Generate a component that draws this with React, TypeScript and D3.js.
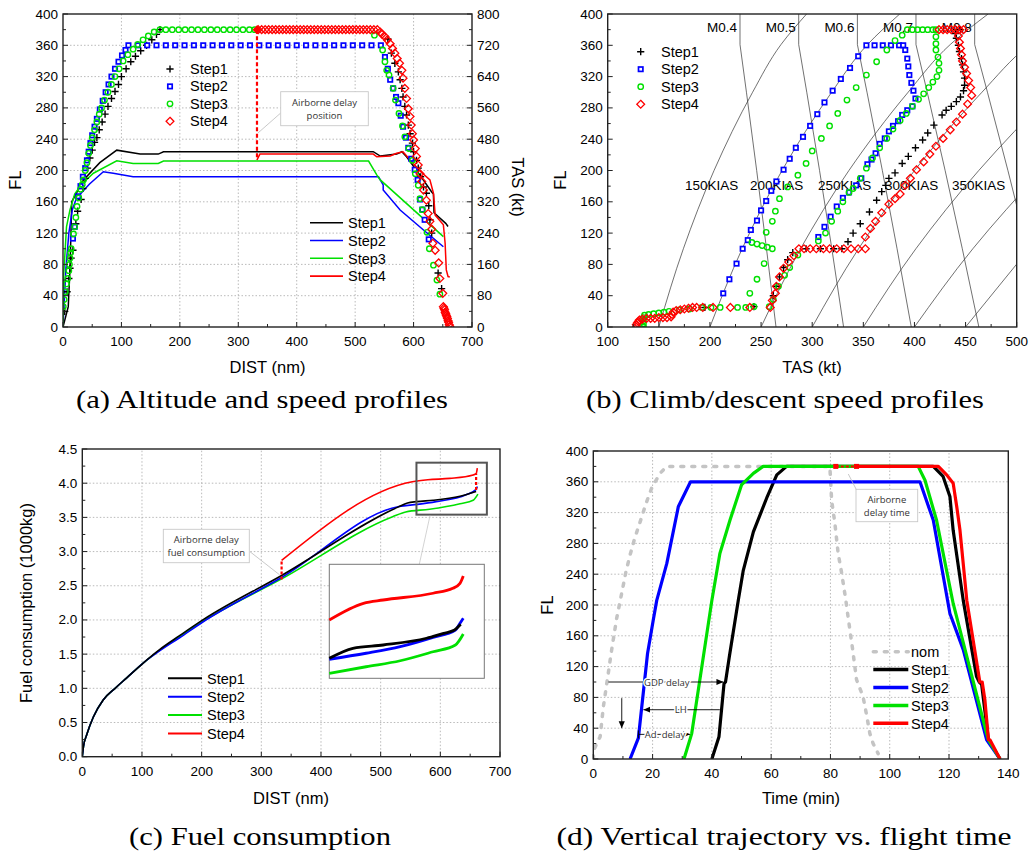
import React, { useEffect, useRef } from 'react';
import * as d3 from 'd3';

type P = [number, number];

const SANS = "'Liberation Sans', Arial, Helvetica, sans-serif";
const SERIF = "'Liberation Serif', 'Times New Roman', serif";
const NOTE = "'Open Sans', 'Noto Sans', sans-serif";

const COL = { s1: '#000000', s2: '#0000ff', s3: '#00e000', s4: '#ff0000', nom: '#c4c4c4' };
const stepNames = ['Step1', 'Step2', 'Step3', 'Step4'];

// ---------- (a) altitude markers [DIST nm, FL] ----------
const aStep1Pts: P[] = [[3,20],[7,45],[10,62],[12,75],[14,88],[17,98],[22,132],[25,148],[31,163],[34,177],[38,190],[42,203],[46,216],[50,226],[54,236],[58,242],[62,252],[67,262],[72,272],[77,282],[83,292],[89,301],[95,310],[100,320],[108,330],[116,339],[124,346],[133,353],[143,360],[152,367],[160,374],[166,380],
  [556,368],[562,350],[568,337],[574,326],[577,316],[580,305],[582,294],[585,282],[588,271],[591,258],[594,247],[598,235],[600,224],[605,213],[608,203],[612,192],[617,179],[622,171],[626,155],[628,137],[631,120],[642,69],[648,49]];
const aStep2Pts: P[] = [[17,113],[20,128],[26,167],[30,180],[34,192],[38,203],[41,213],[44,224],[47,235],[50,245],[54,256],[58,266],[63,278],[68,289],[73,300],[78,310],[83,320],[89,330],[95,339],[101,347],[107,354],[112,360],
  [551,345],[556,330],[560,316],[565,305],[570,294],[574,286],[578,270],[582,256],[587,242],[591,229],[596,215],[602,201],[607,188],[611,163],[615,150],[619,137],[626,112]];
const aStep2Cruise = [128,144,160,176,192,208,224,240,256,272,288,304,320,336,352,368,384,400,416,432,448,464,480,496,512,528,544];
const aStep3Pts: P[] = [[0.5,26],[2,35],[4,45],[6,55],[8,62],[10,72],[11,80],[12,88],[13,95],[14,100],[18,119],[20,128],[22,140],[24,154],[27,165],[30,176],[33,182],[35,188],[38,200],[41,210],[44,222],[47,232],[50,242],[54,252],[58,262],[62,272],[66,280],[71,290],[77,300],[83,310],[89,320],[96,330],[103,340],[111,348],[120,355],[128,361],[137,367],[146,372],[156,377],[166,380],
  [533,373],[547,354],[551,339],[554,328],[558,322],[565,305],[569,290],[575,273],[581,257],[585,243],[592,228],[598,213],[603,196],[608,181],[611,164],[615,150],[623,121],[627,100],[634,79],[640,60],[645,42]];
const aStep3Cruise = [176,187,198,209,220,231,242,253,264,275,286,297,308,319,328];
const aStep4Pts: P[] = [[543,377],[546,374],[551,371],[555,367],[560,362],[564,356],[568,350],[572,343],[576,337],[580,328],[582,318],[585,305],[588,292],[591,279],[594,269],[596,258],[598,247],[600,239],[603,228],[605,218],[608,207],[611,196],[614,186],[617,175],[622,162],[625,145],[628,135],[631,125],[633,107],[637,98],[643,82],[645,62],[650,43],
  [651,26],[652,24],[653,22],[654,19],[655,17],[656,15],[657,13],[658,11],[659,8],[660,6],[661,3],[662,1]];
const aStep4Cruise = [334,340,346,352,358,364,370,376,382,388,394,400,406,412,418,424,430,436,442,448,454,460,466,472,478,484,490,496,502,508,514,520,526,532,538];

// ---------- (a) TAS lines [DIST nm, TAS kt] ----------
const aTas1: P[] = [[0,0],[9,52],[12,150],[15,320],[35,376],[63,420],[92,452],[132,442],[163,442],[172,448],[531,448],[543,437],[571,442],[580,448],[588,435],[610,390],[631,345],[634,340],[635,292],[655,265],[659,257]];
const aTas2: P[] = [[0,0],[2,60],[5,150],[10,240],[16,300],[23,329],[45,365],[69,397],[86,393],[120,384],[540,384],[548,363],[548,350],[577,299],[617,248],[651,205]];
const aTas3: P[] = [[0,0],[0.5,60],[1,128],[6,256],[12,300],[20,340],[32,365],[52,393],[92,425],[120,418],[163,418],[172,424],[523,424],[537,389],[543,376],[651,231]];
const aTas4: P[] = [[332,427],[337,442],[531,442],[537,435],[560,437],[571,444],[582,448],[610,400],[628,376],[634,342],[637,286],[651,261],[654,214],[656,146],[659,129],[662,128]];
const aDelayDist = 332;

// ---------- (b) markers [TAS kt, FL] ----------
const bStep1Pts: P[] = [[195,25],[243,26],[262,40],[265,52],[268,64],[272,76],[276,86],[281,95],[294,100],[308,100],[321,100],[329,100],[335,109],[340,120],[347,132],[356,147],[363,162],[368,173],[372,181],[375,190],[381,197],[388,209],[394,218],[401,229],[408,239],[413,248],[419,258],[427,271],[431,277],[436,282],[441,288],[445,294],[448,302],[449,309],[449,318],[448,326],[447,335],[446,343],[444,352],[443,360],[441,369],[440,375],[441,380],[445,380]];
const bStep2Pts: P[] = [[213,43],[219,61],[226,81],[232,100],[237,111],[240,124],[246,136],[250,149],[255,161],[260,174],[265,186],[272,201],[278,215],[284,229],[291,243],[298,257],[305,272],[312,287],[320,302],[328,317],[337,331],[345,346],[353,360],[361,360],[369,360],[377,360],[385,360],[389,360],[391,354],[393,343],[394,333],[395,322],[397,312],[399,302],[401,292],[398,282],[393,277],[388,271],[384,263],[379,257],[375,250],[371,241],[366,234],[362,222],[358,214],[354,208],[348,190],[343,181],[336,172],[330,165],[324,154],[318,141],[312,128],[306,115]];
const bStep3Pts: P[] = [[135,0],[135,4],[135,8],[135,12],[136,15],[140,16],[145,17],[150,18],[155,19],[160,20],[170,22],[180,23],[192,25],[201,25],[210,25],[227,25],[235,25],[243,26],
  [239,43],[246,61],[253,81],[241,108],[246,106],[251,104],[256,102],[261,100],[255,121],[261,135],[264,148],[268,164],[276,179],[286,194],[294,209],[300,225],[309,241],[317,257],[325,273],[334,290],[343,306],[353,322],[363,339],[373,354],[381,366],[388,373],[393,380],[398,380],[403,380],[408,380],[413,380],[418,380],[421,380],
  [421,371],[421,362],[421,354],[423,345],[424,337],[424,328],[422,320],[418,313],[414,306],[409,298],[404,291],[398,282],[392,273],[386,264],[379,253],[373,241],[366,229],[359,216],[353,203],[347,190],[340,177],[336,172],[330,160],[325,148],[319,135],[313,120],[306,110],[286,92],[278,76],[273,66],[267,52],[262,35],[258,26]];
const bStep4Pts: P[] = [[424,380],[428,380],[432,380],[436,380],[440,380],[444,380],[448,380],[443,372],[444,364],[445,356],[446,348],[447,340],[449,332],[451,324],[453,315],[455,306],[456,296],[452,285],[447,272],[441,262],[435,252],[428,241],[421,231],[415,221],[409,211],[402,201],[396,190],[391,181],[386,170],[381,164],[375,157],[368,146],[362,135],[357,126],[352,115],[352,100],[345,100],[338,100],[331,100],[324,100],[317,100],[311,100],[304,100],[298,100],[292,100],[287,100],[282,91],[277,83],[272,75],[268,64],[265,52],[264,43],[261,34],[259,25],[239,25],[220,25],[203,25],[193,25],[187,25],[183,25],[179,24],[175,23],[171,22],[167,21],[164,19],[163,16],[162,13],[158,12],[154,12],[150,12],[146,11],[142,11],[138,11],[134,10],[131,9],[130,7],[129,5],[128,3],[128,0]];

// ---------- (b) guide lines: TAS at FL 0,100,200,300,361,400 ----------
const guideFL = [0, 100, 200, 300, 361, 400];
const machNames = ['M0.4', 'M0.5', 'M0.6', 'M0.7', 'M0.8'];
const machTas = [
  [264.6, 255.3, 245.7, 235.7, 229.4, 229.4],
  [330.7, 319.2, 307.2, 294.7, 286.8, 286.8],
  [396.9, 383.0, 368.6, 353.6, 344.2, 344.2],
  [463.0, 446.8, 430.0, 412.5, 401.5, 401.5],
  [529.2, 510.6, 491.4, 471.4, 458.9, 458.9],
];
const kiasNames = ['150KIAS', '200KIAS', '250KIAS', '300KIAS', '350KIAS'];
const kiasTas = [
  [150, 174.0, 204.0, 241.7, 269.5, 294.5],
  [200, 231.5, 270.5, 319.0, 354.1, 385.6],
  [250, 288.6, 335.9, 393.8, 435.0, 472.0],
  [300, 345.3, 400.1, 466.0, 512.2, 553.7],
  [350, 401.4, 462.9, 535.6, 585.7],
  [400, 457.1, 524.3],
  [450, 512.2],
];
const kiasLabelTas = [175.6, 239.2, 305.7, 371.2, 436.7];

// ---------- (c) fuel [DIST nm, fuel 1000kg] ----------
const cFuel1: P[] = [[0,0],[2,0.15],[7.4,0.32],[18.5,0.58],[35,0.83],[55,1.0],[74,1.15],[102,1.37],[130,1.57],[163,1.77],[202,2.0],[334,2.65],[529,3.65],[545,3.71],[560,3.73],[588,3.75],[633,3.81],[660,3.88]];
const cFuel2: P[] = [[0,0],[2,0.15],[7.4,0.32],[18.5,0.58],[35,0.83],[55,1.0],[74,1.15],[102,1.37],[130,1.55],[163,1.74],[202,1.97],[334,2.62],[531,3.66],[562,3.69],[593,3.73],[643,3.83],[660,3.91],[662,3.95]];
const cFuel3: P[] = [[0,0],[2,0.15],[7.4,0.32],[18.5,0.58],[35,0.83],[55,1.0],[74,1.15],[102,1.37],[130,1.56],[163,1.76],[202,1.98],[334,2.6],[520,3.51],[542,3.58],[582,3.62],[633,3.70],[655,3.75],[663,3.84]];
const cFuel4: P[] = [[334,2.87],[553,4.02],[579,4.05],[616,4.07],[655,4.12],[660,4.14],[662,4.22]];
const cDelay1: P[] = [[334,2.59],[334,2.87]];
const cDelay2: P[] = [[660,3.90],[660,4.14]];
// inset (magnified) curves, in the zoom box units
const cZoomDist = [560, 678];
const cZoomFuel = [3.54, 4.30];
const cInset1: P[] = [[560,3.673],[578,3.74],[601,3.762],[634,3.807],[647,3.84],[655,3.86],[660,3.90]];
const cInset2: P[] = [[560,3.667],[588,3.707],[614,3.751],[639,3.813],[656,3.862],[659.5,3.907],[662,3.94]];
const cInset3: P[] = [[560,3.573],[588,3.617],[614,3.657],[639,3.717],[656,3.762],[662,3.835]];
const cInset4: P[] = [[560,3.929],[586,4.04],[601,4.062],[639,4.107],[654,4.14],[659.5,4.173],[662,4.222]];

// ---------- (d) FL vs time [min, FL] ----------
const dNom: P[] = [[0,0],[0.2,12],[2.3,29],[3.4,68],[4.7,102],[6.2,142],[7.9,183],[9,204],[11,243],[12.4,265],[14,287],[15.8,308],[17.8,332],[19.7,352],[22.5,371],[24.8,380],[79.8,380],[80.4,336],[81.5,306],[82.6,267],[83.8,241],[85.2,206],[86,183],[87.5,142],[88.8,103],[91,81],[92.2,57],[93.3,33],[94.4,20],[96.1,7]];
const dStep1: P[] = [[40,0],[42.4,29],[44.1,98],[44.6,100],[45.9,133],[48.9,206],[50.6,245],[54,295],[58.5,339],[61.9,369],[65.2,380],[114.7,380],[118,367],[120.3,341],[121.4,297],[124.8,206],[129.3,107],[130.2,100],[131,97],[133.3,25],[137.2,0]];
const dStep2: P[] = [[12.4,0],[15.2,27],[18.3,137],[20.2,180],[21.4,206],[24.8,254],[28.7,328],[32.8,360],[110.2,360],[114.7,310],[120.3,189],[124.8,142],[132.7,25],[137.2,0]];
const dStep3: P[] = [[30.6,0],[33.2,33],[40,206],[42.7,267],[46.1,310],[50,356],[54,371],[57.3,380],[109.6,380],[111.9,362],[115.8,310],[121.4,202],[132.7,33],[133.3,25],[137.2,0]];
const dStep4: P[] = [[88.8,380],[116.4,380],[119.2,369],[121.4,358],[122.6,328],[123.7,297],[126,206],[130.4,100],[131.2,100],[132.1,77],[133.3,25],[133.8,25],[137.2,0]];
const dDelay: P[] = [[81.8,380],[88.8,380]];

export default function App() {
  const ref = useRef<SVGSVGElement>(null);

  useEffect(() => {
    const svg = d3.select(ref.current as SVGSVGElement);
    svg.selectAll('*').remove();
    svg.append('rect').attr('width', 1032).attr('height', 855).attr('fill', '#fff');
    const defs = svg.append('defs');
    defs.append('marker').attr('id', 'arr').attr('viewBox', '0 -4 8 8').attr('refX', 8).attr('refY', 0)
      .attr('markerWidth', 7).attr('markerHeight', 7).attr('markerUnits', 'userSpaceOnUse').attr('orient', 'auto')
      .append('path').attr('d', 'M0,-3.5L8,0L0,3.5Z').attr('fill', '#000');

    const text = (g: any, x: number, y: number, s: string, size: number, o: any = {}) =>
      g.append('text').attr('x', x).attr('y', y).attr('font-family', o.font || SANS).attr('font-size', size)
        .attr('text-anchor', o.anchor || 'start').attr('fill', o.fill || '#000').text(s);

    const clip = (id: string, x: any, y: any) => {
      const [x0, x1] = x.range(); const [y0, y1] = y.range();
      defs.append('clipPath').attr('id', id).append('rect').attr('x', x0).attr('y', y1).attr('width', x1 - x0).attr('height', y0 - y1);
      return svg.append('g').attr('clip-path', `url(#${id})`);
    };

    const grid = (x: any, y: any, xt: number[], yt: number[]) => {
      const g = svg.append('g').attr('stroke', '#a8a8a8').attr('stroke-width', 0.8).attr('stroke-dasharray', '1.5,2');
      const [x0, x1] = x.range(); const [y0, y1] = y.range();
      xt.slice(1, -1).forEach(v => g.append('line').attr('x1', x(v)).attr('x2', x(v)).attr('y1', y0).attr('y2', y1));
      yt.slice(1, -1).forEach(v => g.append('line').attr('x1', x0).attr('x2', x1).attr('y1', y(v)).attr('y2', y(v)));
    };

    const mids = (t: number[]) => t.slice(1).map((v, i) => (v + t[i]) / 2);

    const frame = (x: any, y: any, xt: number[], yt: number[], yf: (v: number) => string) => {
      const g = svg.append('g');
      const [x0, x1] = x.range(); const [y0, y1] = y.range();
      g.append('rect').attr('x', x0).attr('y', y1).attr('width', x1 - x0).attr('height', y0 - y1)
        .attr('fill', 'none').attr('stroke', '#222').attr('stroke-width', 1.4);
      const tk = g.append('g').attr('stroke', '#222').attr('stroke-width', 1);
      xt.forEach(v => tk.append('line').attr('x1', x(v)).attr('x2', x(v)).attr('y1', y0).attr('y2', y0 - 5));
      mids(xt).forEach(v => tk.append('line').attr('x1', x(v)).attr('x2', x(v)).attr('y1', y0).attr('y2', y0 - 3));
      yt.forEach(v => tk.append('line').attr('x1', x0).attr('x2', x0 + 5).attr('y1', y(v)).attr('y2', y(v)));
      mids(yt).forEach(v => tk.append('line').attr('x1', x0).attr('x2', x0 + 3).attr('y1', y(v)).attr('y2', y(v)));
      xt.forEach(v => text(g, x(v), y0 + 19, String(v), 13.5, { anchor: 'middle' }));
      yt.forEach(v => text(g, x0 - 5, y(v) + 4.5, yf(v), 13.5, { anchor: 'end' }));
    };

    const line = (x: any, y: any, curve: any = d3.curveLinear) =>
      d3.line<P>().x(d => x(d[0])).y(d => y(d[1])).curve(curve);

    const marker = (g: any, px: number, py: number, kind: string, color: string) => {
      if (kind === 'plus') g.append('path').attr('d', `M${px - 3.6},${py}h7.2M${px},${py - 3.6}v7.2`).attr('stroke', color).attr('stroke-width', 1.4);
      if (kind === 'square') g.append('rect').attr('x', px - 2.2).attr('y', py - 2.2).attr('width', 4.4).attr('height', 4.4)
        .attr('fill', '#fff').attr('stroke', color).attr('stroke-width', 1.7);
      if (kind === 'circle') g.append('circle').attr('cx', px).attr('cy', py).attr('r', 2.7).attr('fill', 'none').attr('stroke', color).attr('stroke-width', 1.4);
      if (kind === 'diamond') g.append('path').attr('d', `M${px},${py - 3.9}L${px + 3.9},${py}L${px},${py + 3.9}L${px - 3.9},${py}Z`)
        .attr('fill', 'none').attr('stroke', color).attr('stroke-width', 1.3);
    };
    const markers = (g: any, pts: P[], x: any, y: any, kind: string, color: string) =>
      pts.forEach(([a, b]) => marker(g, x(a), y(b), kind, color));

    const noteBox = (x0: number, y0: number, x1: number, y1: number, lines: string[], lx0: number, ly0: number, lx1: number, ly1: number) => {
      svg.append('line').attr('x1', lx0).attr('y1', ly0).attr('x2', lx1).attr('y2', ly1).attr('stroke', '#bbb').attr('stroke-width', 0.8);
      svg.append('rect').attr('x', x0).attr('y', y0).attr('width', x1 - x0).attr('height', y1 - y0)
        .attr('fill', '#fff').attr('stroke', '#c8c8c8').attr('stroke-width', 0.9);
      const cy = (y0 + y1) / 2;
      lines.forEach((s, i) => text(svg, (x0 + x1) / 2, cy + (i - (lines.length - 1) / 2) * 13 + 3.5, s, 9.5, { anchor: 'middle', font: NOTE, fill: '#333' }));
    };

    const stepColors = [COL.s1, COL.s2, COL.s3, COL.s4];
    const stepKinds = ['plus', 'square', 'circle', 'diamond'];

    // ================= (a) =================
    {
      const x = d3.scaleLinear().domain([0, 700]).range([63, 472]);
      const y = d3.scaleLinear().domain([0, 400]).range([327, 14]);
      const y2 = d3.scaleLinear().domain([0, 800]).range([327, 14]);
      const xt = d3.range(0, 701, 100), yt = d3.range(0, 401, 40), y2t = d3.range(0, 801, 80);
      grid(x, y, xt, yt);
      const g = clip('clipA', x, y);
      const tasLines = [aTas1, aTas2, aTas3, aTas4];
      tasLines.forEach((d, i) => g.append('path').attr('d', line(x, y2)(d)).attr('fill', 'none')
        .attr('stroke', stepColors[i]).attr('stroke-width', 1.5));
      const m = g.append('g');
      markers(m, aStep1Pts, x, y, 'plus', COL.s1);
      markers(m, aStep2Pts, x, y, 'square', COL.s2);
      markers(m, aStep2Cruise.map(v => [v, 360] as P), x, y, 'square', COL.s2);
      markers(m, aStep3Pts, x, y, 'circle', COL.s3);
      markers(m, aStep3Cruise.map(v => [v, 380] as P), x, y, 'circle', COL.s3);
      markers(m, aStep4Cruise.map(v => [v, 380] as P), x, y, 'diamond', COL.s4);
      markers(m, aStep4Pts, x, y, 'diamond', COL.s4);
      // airborne delay position
      g.append('line').attr('x1', x(aDelayDist)).attr('x2', x(aDelayDist)).attr('y1', y(380)).attr('y2', y2(427))
        .attr('stroke', COL.s4).attr('stroke-width', 2.2).attr('stroke-dasharray', '4,2.5');
      g.append('path').attr('d', `M${x(aDelayDist)},${y(380) - 4.5}l4.5,4.5l-4.5,4.5l-4.5,-4.5Z`).attr('fill', COL.s4);
      frame(x, y, xt, yt, v => String(v));
      // right TAS axis
      const r = svg.append('g').attr('stroke', '#222').attr('stroke-width', 1);
      y2t.forEach(v => r.append('line').attr('x1', 472).attr('x2', 467).attr('y1', y2(v)).attr('y2', y2(v)));
      mids(y2t).forEach(v => r.append('line').attr('x1', 472).attr('x2', 469).attr('y1', y2(v)).attr('y2', y2(v)));
      y2t.forEach(v => text(svg, 477, y2(v) + 4.5, String(v), 13.5));
      text(svg, 267.5, 373, 'DIST (nm)', 16.5, { anchor: 'middle' });
      text(svg, 0, 0, 'FL', 16.5, { anchor: 'middle' }).attr('transform', 'translate(21,180) rotate(-90)');
      text(svg, 0, 0, 'TAS (kt)', 16.5, { anchor: 'middle' }).attr('transform', 'translate(512,187) rotate(90)');
      noteBox(280.7, 91.7, 368.3, 125.7, ['Airborne delay', 'position'], 280.7, 113, x(aDelayDist) + 1, 133);
      // legends
      stepNames.forEach((s, i) => {
        marker(svg, 170, 69 + i * 17.4, stepKinds[i], stepColors[i]);
        text(svg, 190, 74 + i * 17.4, s, 14.5);
        svg.append('line').attr('x1', 310).attr('x2', 343).attr('y1', 222.7 + i * 17.8).attr('y2', 222.7 + i * 17.8)
          .attr('stroke', stepColors[i]).attr('stroke-width', 1.6);
        text(svg, 348, 228 + i * 17.8, s, 14.5);
      });
    }

    // ================= (b) =================
    {
      const x = d3.scaleLinear().domain([100, 500]).range([607.7, 1016.7]);
      const y = d3.scaleLinear().domain([0, 400]).range([327, 14]);
      const xt = d3.range(100, 501, 50), yt = d3.range(0, 401, 40);
      const g = clip('clipB', x, y);
      const guide = (tas: number[]) => tas.map((t, i) => [t, guideFL[i]] as P);
      const gl = g.append('g').attr('fill', 'none').attr('stroke', '#333').attr('stroke-width', 0.7);
      machTas.forEach(t => gl.append('path').attr('d', line(x, y)(guide(t))));
      kiasTas.forEach(t => gl.append('path').attr('d', line(x, y, d3.curveMonotoneY)(guide(t))));
      machNames.forEach((s, i) => text(g, x(machTas[i][5]) - 3, 32, s, 13.5, { anchor: 'end' }));
      kiasNames.forEach((s, i) => text(g, x(kiasLabelTas[i]), 190, s, 13.5));
      const m = g.append('g');
      markers(m, bStep1Pts, x, y, 'plus', COL.s1);
      markers(m, bStep2Pts, x, y, 'square', COL.s2);
      markers(m, bStep3Pts, x, y, 'circle', COL.s3);
      markers(m, bStep4Pts, x, y, 'diamond', COL.s4);
      frame(x, y, xt, yt, v => String(v));
      text(svg, 812, 373, 'TAS (kt)', 16.5, { anchor: 'middle' });
      text(svg, 0, 0, 'FL', 16.5, { anchor: 'middle' }).attr('transform', 'translate(566,180) rotate(-90)');
      stepNames.forEach((s, i) => {
        marker(svg, 640.7, 51.7 + i * 17.5, stepKinds[i], stepColors[i]);
        text(svg, 661, 56.7 + i * 17.5, s, 14.5);
      });
    }

    // ================= (c) =================
    {
      const x = d3.scaleLinear().domain([0, 700]).range([82.3, 500]);
      const y = d3.scaleLinear().domain([0, 4.5]).range([756.7, 449]);
      const xt = d3.range(0, 701, 100), yt = d3.range(0, 10).map(v => v * 0.5);
      grid(x, y, xt, yt);
      const g = clip('clipC', x, y);
      const cLines = [cFuel1, cFuel2, cFuel3, cFuel4];
      [cFuel3, cFuel2, cFuel1, cFuel4].forEach(d => {
        const i = cLines.indexOf(d);
        g.append('path').attr('d', line(x, y, d3.curveMonotoneX)(d)).attr('fill', 'none').attr('stroke', stepColors[i]).attr('stroke-width', 1.6);
      });
      [cDelay1, cDelay2].forEach(d => g.append('path').attr('d', line(x, y)(d)).attr('fill', 'none')
        .attr('stroke', COL.s4).attr('stroke-width', 2.2).attr('stroke-dasharray', '3,2'));
      // zoom box
      svg.append('rect').attr('x', x(cZoomDist[0])).attr('y', y(cZoomFuel[1])).attr('width', x(cZoomDist[1]) - x(cZoomDist[0]))
        .attr('height', y(cZoomFuel[0]) - y(cZoomFuel[1])).attr('fill', 'none').attr('stroke', '#555').attr('stroke-width', 2);
      // inset
      const ix = d3.scaleLinear().domain(cZoomDist).range([329.3, 484.3]);
      const iy = d3.scaleLinear().domain(cZoomFuel).range([678.3, 564.3]);
      svg.append('line').attr('x1', 430).attr('y1', y(cZoomFuel[0]) + 1).attr('x2', 419.3).attr('y2', 564.3).attr('stroke', '#c8c8c8').attr('stroke-width', 0.8);
      svg.append('rect').attr('x', 329.3).attr('y', 564.3).attr('width', 155).attr('height', 114)
        .attr('fill', '#fff').attr('stroke', '#777').attr('stroke-width', 1);
      [cInset3, cInset2, cInset1, cInset4].forEach((d, k) => {
        const i = [2, 1, 0, 3][k];
        svg.append('path').attr('d', line(ix, iy, d3.curveMonotoneX)(d)).attr('fill', 'none').attr('stroke', stepColors[i]).attr('stroke-width', 2.8);
      });
      frame(x, y, xt, yt, d3.format('.1f'));
      text(svg, 291, 804, 'DIST (nm)', 16.5, { anchor: 'middle' });
      text(svg, 0, 0, 'Fuel consumption (1000kg)', 16.5, { anchor: 'middle' }).attr('transform', 'translate(32,603) rotate(-90)');
      noteBox(163.3, 529.3, 249.3, 562.7, ['Airborne delay', 'fuel consumption'], 250, 551.7, x(334) - 2, y(2.66));
      stepNames.forEach((s, i) => {
        svg.append('line').attr('x1', 168).attr('x2', 202).attr('y1', 678.3 + i * 18.4).attr('y2', 678.3 + i * 18.4)
          .attr('stroke', stepColors[i]).attr('stroke-width', 2);
        text(svg, 207, 683.5 + i * 18.4, s, 14.5);
      });
    }

    // ================= (d) =================
    {
      const x = d3.scaleLinear().domain([0, 140]).range([593.3, 1008.3]);
      const y = d3.scaleLinear().domain([0, 400]).range([759, 451]);
      const xt = d3.range(0, 141, 20), yt = d3.range(0, 401, 40);
      grid(x, y, xt, yt);
      const g = clip('clipD', x, y);
      g.append('path').attr('d', line(x, y)(dNom)).attr('fill', 'none').attr('stroke', COL.nom)
        .attr('stroke-width', 3.5).attr('stroke-dasharray', '3,8').attr('stroke-linecap', 'round');
      [dStep1, dStep2, dStep3, dStep4].forEach((d, i) => g.append('path').attr('d', line(x, y)(d)).attr('fill', 'none')
        .attr('stroke', stepColors[i]).attr('stroke-width', 3.2).attr('stroke-linejoin', 'round'));
      g.append('path').attr('d', line(x, y)(dDelay)).attr('fill', 'none').attr('stroke', COL.s4)
        .attr('stroke-width', 2).attr('stroke-dasharray', '3,2');
      dDelay.forEach(([a, b]) => g.append('rect').attr('x', x(a) - 2.5).attr('y', y(b) - 2.5).attr('width', 5).attr('height', 5).attr('fill', COL.s4));
      // annotation arrows
      const ann = svg.append('g');
      const arrow = (t0: number, f0: number, t1: number, f1: number) =>
        ann.append('line').attr('x1', x(t0)).attr('y1', y(f0)).attr('x2', x(t1)).attr('y2', y(f1))
          .attr('stroke', '#000').attr('stroke-width', 0.9).attr('marker-end', 'url(#arr)');
      arrow(5.1, 100, 43.9, 100);
      arrow(42.7, 64, 16.9, 64);
      arrow(15.2, 32, 32.6, 32);
      ann.append('line').attr('x1', x(15.2)).attr('x2', x(15.2)).attr('y1', y(32) - 4).attr('y2', y(32) + 4).attr('stroke', '#000');
      arrow(9.6, 79, 9.6, 40);
      const lab = (t: number, f: number, s: string) => text(ann, x(t), y(f) + 3.5, s, 9.5, { anchor: 'middle', font: NOTE, fill: '#333' })
        .attr('stroke', '#fff').attr('stroke-width', 3).attr('paint-order', 'stroke');
      lab(24.8, 100, 'GDP delay');
      lab(29.5, 64, 'LH');
      lab(24.2, 32, 'Ad. delay');
      frame(x, y, xt, yt, v => String(v));
      text(svg, 801, 804, 'Time (min)', 16.5, { anchor: 'middle' });
      text(svg, 0, 0, 'FL', 16.5, { anchor: 'middle' }).attr('transform', 'translate(553,605) rotate(-90)');
      noteBox(856, 489.3, 917.7, 521.7, ['Airborne', 'delay time'], 860, 496.7, 848.3, 474);
      const leg = [{ s: 'nom', c: COL.nom, dash: '3,8' }, ...stepNames.map((s, i) => ({ s, c: stepColors[i], dash: null }))];
      leg.forEach((l, i) => {
        svg.append('line').attr('x1', 873.3).attr('x2', 908.3).attr('y1', 651.7 + i * 17.9).attr('y2', 651.7 + i * 17.9)
          .attr('stroke', l.c).attr('stroke-width', 3.5).attr('stroke-dasharray', l.dash).attr('stroke-linecap', l.dash ? 'round' : 'butt');
        text(svg, 911, 657 + i * 17.9, l.s, 14.5);
      });
    }

    // ================= captions =================
    const caps: [string, number, number, number][] = [
      ['(a) Altitude and speed profiles', 262, 408, 372],
      ['(b) Climb/descent speed profiles', 785, 408, 398],
      ['(c) Fuel consumption', 260, 845, 262],
      ['(d) Vertical trajectory vs. flight time', 784, 845, 455],
    ];
    caps.forEach(([s, cx, by, w]) => text(svg, cx, by, s, 26, { anchor: 'middle', font: SERIF })
      .attr('textLength', w).attr('lengthAdjust', 'spacingAndGlyphs'));
  }, []);

  return (
    <div style={{ position: 'absolute', left: 0, top: 0 }}>
      <svg ref={ref} width={1032} height={855} viewBox="0 0 1032 855" style={{ display: 'block' }} />
    </div>
  );
}
